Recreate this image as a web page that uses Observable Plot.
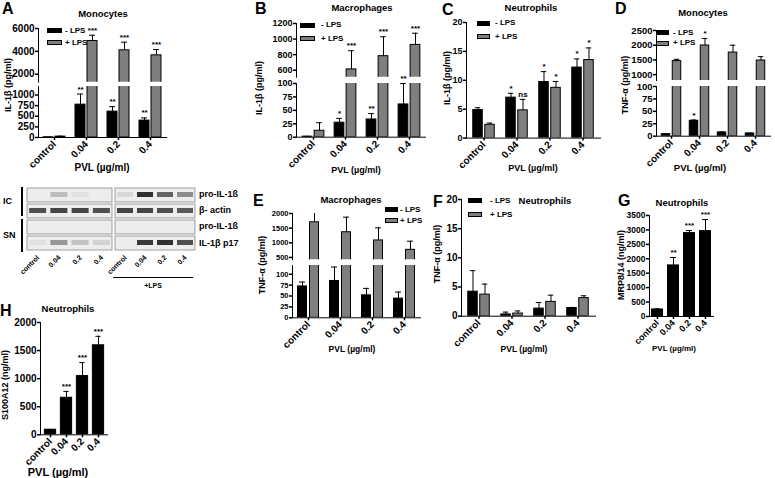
<!DOCTYPE html>
<html><head><meta charset="utf-8">
<script src="https://cdn.jsdelivr.net/npm/d3@7"></script>
<script src="https://cdn.jsdelivr.net/npm/@observablehq/plot@0.6"></script>
<style>
body{margin:0;background:#fff;}
#fig{position:relative;width:775px;height:478px;overflow:hidden;font-family:"Liberation Sans",Arial,sans-serif;font-weight:bold;color:#000;background:#fff;}
.abs{position:absolute;white-space:nowrap;line-height:1;}
.seg{position:absolute;}
.seg svg [aria-label*="axis"]{stroke-width:1.5px;}
</style></head><body><div id="fig"></div>
<script>
// ---------- data ----------
const doses = ["control", "0.04", "0.2", "0.4"];
const seriesNames = ["- LPS", "+ LPS"];
// A: IL-1β monocytes
const aMinus = [5, 773, 609, 398];
const aMinusSem = [2, 250, 117, 63];
const aMinusSig = ["", "**", "**", "**"];
const aPlus = [20, 4908, 4090, 3650];
const aPlusSem = [10, 505, 710, 510];
const aPlusSig = ["", "***", "***", "***"];
const aTicksTop = [2000, 4000, 6000];
const aTicksBottom = [0, 250, 500, 750, 1000];
// B: IL-1β macrophages
const bMinus = [1, 27, 33, 61];
const bMinusSem = [0.5, 8, 11, 39];
const bMinusSig = ["", "*", "**", "**"];
const bPlus = [12, 610, 780, 925];
const bPlusSem = [15, 240, 250, 150];
const bPlusSig = ["", "***", "***", "***"];
const bTicksTop = [600, 800, 1000, 1200];
const bTicksBottom = [0, 25, 50, 75, 100];
// C: IL-1β neutrophils
const cMinus = [4.85, 7.0, 9.7, 12.2];
const cMinusSem = [0.4, 0.75, 1.8, 1.5];
const cMinusSig = ["", "*", "*", "*"];
const cPlus = [2.3, 4.8, 8.7, 13.5];
const cPlusSem = [0.3, 1.9, 1.1, 2.1];
const cPlusSig = ["", "ns", "*", "*"];
const cTicks = [0, 5, 10, 15, 20];
// D: TNF-α monocytes
const dMinus = [4, 31, 7.5, 5.5];
const dMinusSem = [0.6, 1.5, 1, 0.6];
const dMinusSig = ["", "*", "", ""];
const dPlus = [1460, 1990, 1750, 1480];
const dPlusSem = [60, 240, 250, 130];
const dPlusSig = ["", "*", "", ""];
const dTicksTop = [1000, 1500, 2000, 2500];
const dTicksBottom = [0, 25, 50, 75, 100];
// E: TNF-α macrophages
const eMinus = [72, 84.5, 51.5, 44];
const eMinusSem = [10, 32, 16, 15];
const ePlus = [1700, 1360, 1080, 760];
const ePlusSem = [425, 515, 430, 295];
const eTicksTop = [500, 1000, 1500, 2000];
const eTicksBottom = [0, 25, 50, 75, 100];
// F: TNF-α neutrophils
const fMinus = [4.2, 0.3, 1.3, 1.4];
const fMinusSem = [3.6, 0.4, 1.05, 0.1];
const fPlus = [3.7, 0.45, 2.45, 3.1];
const fPlusSem = [1.8, 0.45, 1.15, 0.4];
const fTicks = [0, 5, 10, 15, 20];
// G: MRP8/14 neutrophils
const gValues = [243, 1770, 2890, 2960];
const gSem = [20, 275, 90, 400];
const gSig = ["", "**", "***", "***"];
const gTicks = [0, 500, 1000, 1500, 2000, 2500, 3000, 3500];
// H: S100A12 neutrophils
const hValues = [90, 660, 1046, 1594];
const hSem = [5, 113, 240, 160];
const hSig = ["", "***", "***", "***"];
const hTicks = [0, 500, 1000, 1500, 2000];
// Western blot (relative band intensity, lanes = doses)
const blotRows = ["pro-IL-1ß (IC)", "β- actin", "pro-IL-1ß (SN)", "IL-1β p17"];
const blotRowLabels = ["pro-IL-1ß", "β- actin", "pro-IL-1ß", "IL-1β p17"];
const bandMinusLPS = [[0, 0.22, 0.05, 0], [0.75, 0.8, 0.8, 0.75], [0, 0, 0, 0], [0.05, 0.4, 0.2, 0.12]];
const bandPlusLPS = [[0.1, 0.9, 0.65, 0.45], [0.8, 0.8, 0.75, 0.7], [0, 0, 0, 0], [0, 0.85, 0.9, 0.75]];

const BLACK = "#000", GREY = "#7f7f7f";
const FONT = "Liberation Sans, Arial, sans-serif";
const fig = document.getElementById("fig");

function txt(s, x, y, {size = 10, anchor = "middle", rotate = 0} = {}) {
  const d = document.createElement("div");
  d.className = "abs";
  d.textContent = s;
  d.style.fontSize = size + "px";
  d.style.left = x + "px"; d.style.top = y + "px";
  const tx = anchor === "start" ? "0" : anchor === "end" ? "-100%" : "-50%";
  d.style.transform = `translate(${tx},-50%)` + (rotate ? ` rotate(${rotate}deg)` : "");
  fig.appendChild(d);
}
function box(x, y, w, h, fill, border = "1px solid #000") {
  const d = document.createElement("div");
  d.className = "abs";
  Object.assign(d.style, {left: x + "px", top: y + "px", width: w + "px", height: h + "px", background: fill, border, boxSizing: "border-box"});
  fig.appendChild(d);
}
function place(svg, left, top, w) {
  const d = document.createElement("div");
  d.className = "seg";
  d.style.left = left + "px"; d.style.top = top + "px"; d.style.width = w + "px";
  d.appendChild(svg);
  fig.appendChild(d);
}
function setFont(svg, axis, size) {
  svg.querySelectorAll(`[aria-label^="${axis}-axis"] text`).forEach(t => { t.style.fontSize = size + "px"; });
}

function barPanel(p) {
  const n = doses.length;
  const bw = (p.xEnd - p.axisX) / n;
  const ns = p.series.length;
  const off = k => ns === 1 ? 0 : (k === 0 ? -(p.gap / 2 + p.barW / 2) : (p.gap / 2 + p.barW / 2));
  const cap = 3;
  p.segs.forEach((seg, si) => {
    const last = si === p.segs.length - 1;
    const ML = 40, MR = 2, MT = 8, MB = last ? 36 : 0;
    const W = p.xEnd - p.axisX + ML + MR;
    const H = seg.y1 - seg.y0 + MT + MB;
    const inSeg = d => (last || d.top >= seg.domain[0]) && (si === 0 || d.top < p.segs[si - 1].domain[0]);
    const marks = [];
    p.series.forEach((s, k) => {
      const data = s.values.map((v, i) => ({dose: doses[i], v, top: v + s.sem[i], sig: s.sig ? s.sig[i] : ""}));
      const o = off(k);
      marks.push(Plot.ruleX(data, {x: "dose", y1: "v", y2: "top", dx: o, stroke: "#000", strokeWidth: 1, clip: true}));
      marks.push(Plot.tickY(data, {x: "dose", y: "top", insetLeft: bw / 2 + o - cap, insetRight: bw / 2 - o - cap, stroke: "#000", strokeWidth: 1, clip: true}));
      marks.push(Plot.barY(data, {x: "dose", y1: 0, y2: "v", insetLeft: bw / 2 + o - p.barW / 2, insetRight: bw / 2 - o - p.barW / 2, fill: s.fill, stroke: "#000", strokeWidth: 1, clip: true}));
      marks.push(Plot.text(data.filter(d => d.sig && inSeg(d)), {x: "dose", y: "top", text: "sig", dx: o, dy: -5, fontSize: 8, fontWeight: "bold", fill: "#000"}));
    });
    const svg = Plot.plot({
      width: W, height: H, marginLeft: ML, marginRight: MR, marginTop: MT, marginBottom: MB,
      style: {background: "none", fontFamily: FONT, fontSize: p.yFont + "px", fontWeight: "bold", overflow: "visible", color: "#000"},
      x: {type: "band", domain: doses, padding: 0, axis: last ? "bottom" : null, tickRotate: -45, tickSize: 3, tickPadding: 2, label: null, line: true},
      y: {domain: seg.domain, ticks: seg.ticks, tickSize: 3, tickPadding: 1, tickFormat: d => String(d), label: null, line: true},
      marks
    });
    setFont(svg, "x", p.xFont);
    setFont(svg, "y", p.yFont);
    place(svg, p.axisX - ML, seg.y0 - MT, W);
  });
}

const two = (v1, s1, g1, v2, s2, g2) => [
  {values: v1, sem: s1, sig: g1, fill: BLACK},
  {values: v2, sem: s2, sig: g2, fill: GREY}
];

barPanel({axisX: 38, xEnd: 166, barW: 10, gap: 2, yFont: 10, xFont: 10,
  segs: [{domain: [1300, 6000], ticks: aTicksTop, y0: 28.3, y1: 82}, {domain: [0, 1200], ticks: aTicksBottom, y0: 86, y1: 137}],
  series: two(aMinus, aMinusSem, aMinusSig, aPlus, aPlusSem, aPlusSig)});
barPanel({axisX: 296, xEnd: 425, barW: 10, gap: 2, yFont: 9, xFont: 10,
  segs: [{domain: [510, 1200], ticks: bTicksTop, y0: 23.3, y1: 77}, {domain: [0, 100], ticks: bTicksBottom, y0: 83, y1: 136.7}],
  series: two(bMinus, bMinusSem, bMinusSig, bPlus, bPlusSem, bPlusSig)});
barPanel({axisX: 466, xEnd: 600, barW: 10, gap: 2, yFont: 9, xFont: 10,
  segs: [{domain: [0, 20], ticks: cTicks, y0: 21.7, y1: 137.3}],
  series: two(cMinus, cMinusSem, cMinusSig, cPlus, cPlusSem, cPlusSig)});
barPanel({axisX: 656, xEnd: 770, barW: 9, gap: 2, yFont: 9.5, xFont: 10,
  segs: [{domain: [800, 2500], ticks: dTicksTop, y0: 30, y1: 80}, {domain: [0, 100], ticks: dTicksBottom, y0: 86, y1: 135.7}],
  series: two(dMinus, dMinusSem, dMinusSig, dPlus, dPlusSem, dPlusSig)});
barPanel({axisX: 292, xEnd: 420, barW: 9, gap: 3, yFont: 7.5, xFont: 10,
  segs: [{domain: [420, 2000], ticks: eTicksTop, y0: 213, y1: 259.3}, {domain: [0, 120], ticks: eTicksBottom, y0: 265, y1: 317.3}],
  series: two(eMinus, eMinusSem, null, ePlus, ePlusSem, null)});
barPanel({axisX: 461, xEnd: 595, barW: 10, gap: 2, yFont: 10, xFont: 10,
  segs: [{domain: [0, 20], ticks: fTicks, y0: 199.3, y1: 316}],
  series: two(fMinus, fMinusSem, null, fPlus, fPlusSem, null)});
barPanel({axisX: 649, xEnd: 713, barW: 11, gap: 0, yFont: 8.5, xFont: 9,
  segs: [{domain: [0, 3500], ticks: gTicks, y0: 215, y1: 316}],
  series: [{values: gValues, sem: gSem, sig: gSig, fill: BLACK}]});
barPanel({axisX: 40, xEnd: 107, barW: 12, gap: 0, yFont: 10, xFont: 10,
  segs: [{domain: [0, 2000], ticks: hTicks, y0: 322, y1: 434.3}],
  series: [{values: hValues, sem: hSem, sig: hSig, fill: BLACK}]});

// ---------- western blot ----------
function blotPanel(bands, left, width) {
  const strips = blotRows.map(r => ({row: r}));
  const data = [];
  bands.forEach((arr, ri) => arr.forEach((v, li) => { if (v > 0) data.push({row: blotRows[ri], lane: li, v}); }));
  const svg = Plot.plot({
    width, height: 65 + 34, marginLeft: 0, marginRight: 0, marginTop: 0, marginBottom: 34,
    style: {background: "none", fontFamily: FONT, fontSize: "7px", fontWeight: "bold", overflow: "visible", color: "#000"},
    x: {domain: [0, doses.length], ticks: doses.map((_, i) => i + 0.5), tickFormat: t => doses[Math.floor(t)], tickRotate: -45, tickSize: 0, tickPadding: 4, label: null},
    y: {type: "band", domain: blotRows, paddingInner: 0.12, paddingOuter: 0, axis: null},
    marks: [
      Plot.barX(strips, {y: "row", x1: () => 0, x2: () => doses.length, fill: "#ededed", stroke: "#8a8a8a", strokeWidth: 0.8}),
      Plot.barX(data, {y: "row", x1: d => d.lane + 0.1, x2: d => d.lane + 0.9, fill: d => `rgba(25,25,25,${d.v})`, insetTop: 4, insetBottom: 5})
    ]
  });
  place(svg, left, 187, width);
}
blotPanel(bandMinusLPS, 27, 85);
blotPanel(bandPlusLPS, 115, 80);
blotRowLabels.forEach((s, i) => txt(s, 199, [194, 210, 226, 243][i], {size: 9, anchor: "start"}));
txt("IC", 3, 201, {size: 9, anchor: "start"});
txt("SN", 3, 235, {size: 9, anchor: "start"});
box(21, 187, 1.5, 29, "#000", "none");
box(21, 219, 1.5, 33, "#000", "none");
box(113, 277, 80, 1, "#000", "none");
txt("+LPS", 153, 285, {size: 7});

// ---------- titles, letters, labels, legends ----------
[["A", 2, 9], ["B", 255, 9], ["C", 442, 10], ["D", 615, 9], ["E", 253, 201], ["F", 433, 202], ["G", 618, 201], ["H", 0, 311]]
  .forEach(([s, x, y]) => txt(s, x, y, {size: 16, anchor: "start"}));
[["Monocytes", 103, 14], ["Macrophages", 362, 8], ["Neutrophils", 531, 8], ["Monocytes", 703, 13],
 ["Macrophages", 351, 200], ["Neutrophils", 545, 201], ["Neutrophils", 682, 203], ["Neutrophils", 68, 309]]
  .forEach(([s, x, y]) => txt(s, x, y, {size: 9.5}));
[["IL-1β (pg/ml)", 8, 85], ["IL-1β (pg/ml)", 259, 88], ["IL-1β (pg/ml)", 447, 78], ["TNF-α (pg/ml)", 625, 85],
 ["TNF-α (pg/ml)", 262, 265], ["TNF-α (pg/ml)", 437, 254], ["MRP8/14 (ng/ml)", 621, 265], ["S100A12 (ng/ml)", 5, 385]]
  .forEach(([s, x, y]) => txt(s, x, y, {size: 9, rotate: -90}));
[[102, 168, 10], [356, 170, 9], [533, 168, 9], [700, 168, 9.5], [352, 349, 8.5], [524, 349, 8.5], [674, 349, 8], [58, 472, 11]]
  .forEach(([x, y, s]) => txt("PVL (µg/ml)", x, y, {size: s}));
function legend(x, yTop, w, h, dy, textX) {
  [BLACK, GREY].forEach((c, k) => {
    box(x, yTop + k * dy, w, h, c);
    txt(seriesNames[k], textX, yTop + k * dy + h / 2, {size: 8, anchor: "start"});
  });
}
legend(47, 28.3, 15, 5, 12, 65);
legend(300, 22.7, 15, 5, 13.3, 321);
legend(477, 20.7, 13, 5.3, 13.3, 495);
legend(656, 30, 13, 5, 10.7, 673);
legend(385, 207, 13, 5, 11, 400);
legend(468, 198, 14, 5, 14, 490);
</script></body></html>
